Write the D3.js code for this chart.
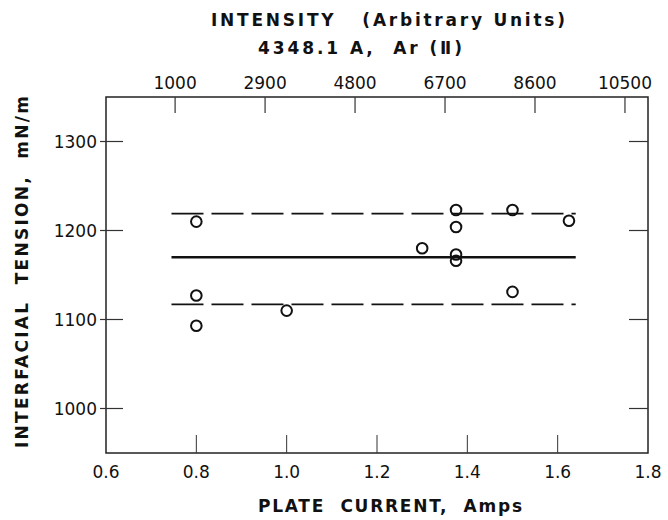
<!DOCTYPE html>
<html>
<head>
<meta charset="utf-8">
<script src="https://cdn.jsdelivr.net/npm/d3@7"></script>
<style>
  body { margin: 0; background: #fff; }
  text { font-family: "DejaVu Sans", sans-serif; fill: #111; }
  .title { white-space: pre; font-size: 17px; font-weight: bold; }
</style>
</head>
<body>
<div class="mainCont"></div>
<script>
// plate current (Amps) and interfacial tension (mN/m)
var current = [0.8, 0.8, 0.8, 1.0, 1.3, 1.375, 1.375, 1.375, 1.375, 1.5, 1.5, 1.625];
var tension = [1210, 1127, 1093, 1110, 1180, 1223, 1204, 1173, 1166, 1223, 1131, 1211];

// mean and +/- band
var meanLine = [1170];
var bandLines = [1219, 1117];
var lineSpan = [0.745, 1.64];

var xTicks = [0.6, 0.8, 1.0, 1.2, 1.4, 1.6, 1.8];
var yTicks = [1000, 1100, 1200, 1300];
var topTicks = [1000, 2900, 4800, 6700, 8600, 10500];
// intensity matched to current at the ends of the top scale
var topAnchorI = [1000, 10500];
var topAnchorC = [0.753, 1.749];

var margin = { top: 97, right: 20, bottom: 67, left: 106 },
    width = 668 - margin.left - margin.right,
    height = 520 - margin.top - margin.bottom;

var x = d3.scaleLinear().domain([0.6, 1.8]).range([0, width]);
var y = d3.scaleLinear().domain([950, 1350]).range([height, 0]);
var xTop = d3.scaleLinear().domain(topAnchorI)
    .range([x(topAnchorC[0]), x(topAnchorC[1])]);

var svg = d3.select(".mainCont").append("svg")
    .attr("width", 668)
    .attr("height", 520);

var g = svg.append("g")
    .attr("transform", "translate(" + margin.left + "," + margin.top + ")");

// frame
g.append("rect")
    .attr("width", width)
    .attr("height", height)
    .attr("fill", "none")
    .attr("stroke", "#222")
    .attr("stroke-width", 1.5);

// bottom axis, ticks pointing in
g.selectAll(".xtick")
    .data(xTicks.slice(1, -1))
    .enter().append("line")
    .attr("x1", function(d) { return x(d); })
    .attr("x2", function(d) { return x(d); })
    .attr("y1", height)
    .attr("y2", height - 18)
    .attr("stroke", "#333")
    .attr("stroke-width", 1);

g.selectAll(".xlab")
    .data(xTicks)
    .enter().append("text")
    .attr("x", function(d) { return x(d); })
    .attr("y", height + 25)
    .attr("text-anchor", "middle")
    .style("font-size", "17px")
    .text(function(d) { return d.toFixed(1); });

// top axis (intensity)
g.selectAll(".ttick")
    .data(topTicks)
    .enter().append("line")
    .attr("x1", function(d) { return xTop(d); })
    .attr("x2", function(d) { return xTop(d); })
    .attr("y1", 0)
    .attr("y2", 16)
    .attr("stroke", "#333")
    .attr("stroke-width", 1.2);

g.selectAll(".tlab")
    .data(topTicks)
    .enter().append("text")
    .attr("x", function(d) { return xTop(d); })
    .attr("y", -8)
    .attr("text-anchor", "middle")
    .style("font-size", "17px")
    .text(function(d) { return d; });

// left and right ticks
g.selectAll(".ytick")
    .data(yTicks)
    .enter().append("line")
    .attr("x1", -6)
    .attr("x2", 17)
    .attr("y1", function(d) { return y(d); })
    .attr("y2", function(d) { return y(d); })
    .attr("stroke", "#333")
    .attr("stroke-width", 1.2);

g.selectAll(".ytickr")
    .data(yTicks)
    .enter().append("line")
    .attr("x1", width - 19)
    .attr("x2", width)
    .attr("y1", function(d) { return y(d); })
    .attr("y2", function(d) { return y(d); })
    .attr("stroke", "#333")
    .attr("stroke-width", 1.2);

g.selectAll(".ylab")
    .data(yTicks)
    .enter().append("text")
    .attr("x", -9)
    .attr("y", function(d) { return y(d); })
    .attr("dy", "0.36em")
    .attr("text-anchor", "end")
    .style("font-size", "17px")
    .text(function(d) { return d; });

// mean line and band
g.append("line")
    .attr("x1", x(lineSpan[0]))
    .attr("x2", x(lineSpan[1]))
    .attr("y1", y(meanLine[0]))
    .attr("y2", y(meanLine[0]))
    .attr("stroke", "#111")
    .attr("stroke-width", 2.6);

g.selectAll(".band")
    .data(bandLines)
    .enter().append("line")
    .attr("x1", x(lineSpan[0]))
    .attr("x2", x(lineSpan[1]))
    .attr("y1", function(d) { return y(d); })
    .attr("y2", function(d) { return y(d); })
    .attr("stroke", "#111")
    .attr("stroke-width", 1.8)
    .attr("stroke-dasharray", "32,8");

// points
g.selectAll(".pt")
    .data(current)
    .enter().append("circle")
    .attr("cx", function(d) { return x(d); })
    .attr("cy", function(d, i) { return y(tension[i]); })
    .attr("r", 5.3)
    .attr("fill", "none")
    .attr("stroke", "#111")
    .attr("stroke-width", 2);

// titles
svg.append("text")
    .attr("class", "title")
    .attr("x", 388)
    .attr("y", 26)
    .attr("text-anchor", "middle")
    .attr("textLength", 354)
    .attr("lengthAdjust", "spacing")
    .text("INTENSITY   (Arbitrary Units)");

svg.append("text")
    .attr("class", "title")
    .attr("x", 360)
    .attr("y", 54)
    .attr("text-anchor", "middle")
    .attr("textLength", 204)
    .attr("lengthAdjust", "spacing")
    .text("4348.1 A,  Ar (\u2161)");

svg.append("text")
    .attr("class", "title")
    .attr("x", 390)
    .attr("y", 512)
    .attr("text-anchor", "middle")
    .attr("textLength", 264)
    .attr("lengthAdjust", "spacing")
    .text("PLATE  CURRENT,  Amps");

svg.append("text")
    .attr("class", "title")
    .attr("transform", "translate(28,272) rotate(-90)")
    .attr("text-anchor", "middle")
    .attr("textLength", 352)
    .attr("lengthAdjust", "spacing")
    .text("INTERFACIAL  TENSION,  mN/m");
</script>
</body>
</html>
